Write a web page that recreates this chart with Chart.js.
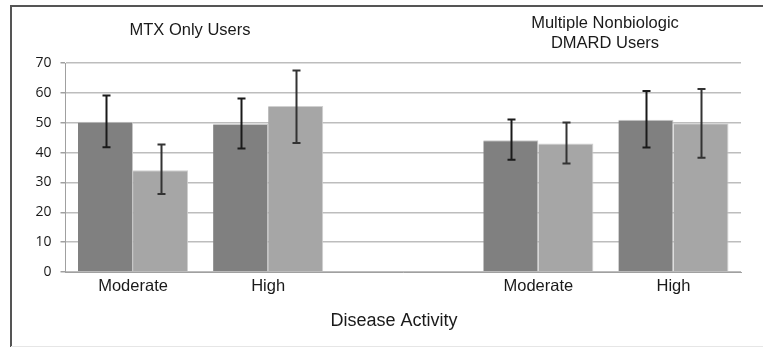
<!DOCTYPE html>
<html>
<head>
<meta charset="utf-8">
<script src="https://cdn.jsdelivr.net/npm/chart.js@4/dist/chart.umd.min.js"></script>
<style>
  html, body { margin: 0; padding: 0; background: #fff; }
  #wrap { width: 763px; height: 347px; position: relative; }
</style>
</head>
<body>
<div id="wrap"><canvas id="chart" width="763" height="347"></canvas></div>
<script>
// categories (third slot is the empty gap between the two user groups)
const categories = ["Moderate", "High", "", "Moderate", "High"];
const groupLabels = ["MTX Only Users", ["Multiple Nonbiologic", "DMARD Users"]];
const xTitle = "Disease Activity";

// series values
const darkValues = [50.3, 49.6, null, 44.1, 51.0];
const lightValues = [34.1, 55.6, null, 43.0, 49.8];

// error bar ends
const darkLow = [41.8, 41.4, null, 37.6, 41.7];
const darkHigh = [59.1, 58.1, null, 51.1, 60.6];
const lightLow = [26.1, 43.2, null, 36.3, 38.3];
const lightHigh = [42.7, 67.5, null, 50.1, 61.3];

const yTicks = [0, 10, 20, 30, 40, 50, 60, 70];

const FONT = "'Liberation Sans', Arial, sans-serif";

const errorBars = {
  id: "errorBars",
  afterDatasetsDraw(chart) {
    const { ctx } = chart;
    const y = chart.scales.y;
    const sets = [[darkLow, darkHigh, "#1a1a1a"], [lightLow, lightHigh, "#333"]];
    ctx.save();
    ctx.lineWidth = 2;
    sets.forEach(([lo, hi, color], i) => {
      const meta = chart.getDatasetMeta(i);
      ctx.strokeStyle = color;
      meta.data.forEach((bar, j) => {
        if (lo[j] == null) return;
        const x = Math.round(bar.x) + 0.5;
        const y1 = y.getPixelForValue(lo[j]);
        const y2 = y.getPixelForValue(hi[j]);
        ctx.beginPath();
        ctx.moveTo(x, y1); ctx.lineTo(x, y2);
        ctx.moveTo(x - 4, y1); ctx.lineTo(x + 4, y1);
        ctx.moveTo(x - 4, y2); ctx.lineTo(x + 4, y2);
        ctx.stroke();
      });
    });
    ctx.restore();
  }
};

const frameAndGroups = {
  id: "frameAndGroups",
  beforeDraw(chart) {
    const { ctx } = chart;
    ctx.save();
    ctx.fillStyle = "#fff";
    ctx.fillRect(0, 0, chart.width, chart.height);
    ctx.strokeStyle = "#555";
    ctx.lineWidth = 2;
    ctx.beginPath();
    ctx.moveTo(11, 347);
    ctx.lineTo(11, 6);
    ctx.lineTo(763, 6);
    ctx.stroke();
    ctx.strokeStyle = "#e6e6e6";
    ctx.lineWidth = 1;
    ctx.beginPath();
    ctx.moveTo(11, 346.5);
    ctx.lineTo(763, 346.5);
    ctx.stroke();
    ctx.restore();
  },
  afterDraw(chart) {
    const { ctx } = chart;
    ctx.save();
    ctx.fillStyle = "#1a1a1a";
    ctx.font = "16.5px " + FONT;
    ctx.textAlign = "center";
    ctx.textBaseline = "middle";
    ctx.fillText(groupLabels[0], 190, 30);
    ctx.fillText(groupLabels[1][0], 605, 23);
    ctx.fillText(groupLabels[1][1], 605, 43);
    ctx.font = "18px " + FONT;
    ctx.fillText(xTitle, 394, 321);
    ctx.restore();
  }
};

new Chart(document.getElementById("chart"), {
  type: "bar",
  data: {
    labels: categories,
    datasets: [
      {
        data: darkValues,
        backgroundColor: "#808080",
        borderColor: "#c8c8c8",
        borderWidth: { top: 1, left: 0, right: 1, bottom: 0 },
        categoryPercentage: 0.815,
        barPercentage: 1.0
      },
      {
        data: lightValues,
        backgroundColor: "#a6a6a6",
        borderColor: "#d0d0d0",
        borderWidth: { top: 1, left: 0, right: 1, bottom: 0 },
        categoryPercentage: 0.815,
        barPercentage: 1.0
      }
    ]
  },
  options: {
    responsive: false,
    animation: false,
    devicePixelRatio: 1,
    layout: { padding: { top: 63, right: 22, left: 0, bottom: 0 } },
    plugins: {
      legend: { display: false },
      tooltip: { enabled: false }
    },
    scales: {
      x: {
        afterFit(scale) { scale.height = 347 - 272; },
        grid: { display: false, drawTicks: false },
        border: { display: true, color: "#a0a0a0", width: 1 },
        ticks: { color: "#1a1a1a", font: { family: FONT, size: 16.5 }, padding: 5 }
      },
      y: {
        min: 0,
        max: 70,
        afterFit(scale) { scale.width = 65.5; },
        afterBuildTicks(scale) { scale.ticks = yTicks.map(v => ({ value: v })); },
        grid: { color: "#bdbdbd", lineWidth: 1.5, tickLength: 5, tickColor: "#a0a0a0" },
        border: { display: true, color: "#a0a0a0", width: 1 },
        ticks: { color: "#1a1a1a", font: { family: "'Open Sans', " + FONT, size: 14 }, padding: 9 }
      }
    }
  },
  plugins: [frameAndGroups, errorBars]
});
</script>
</body>
</html>
